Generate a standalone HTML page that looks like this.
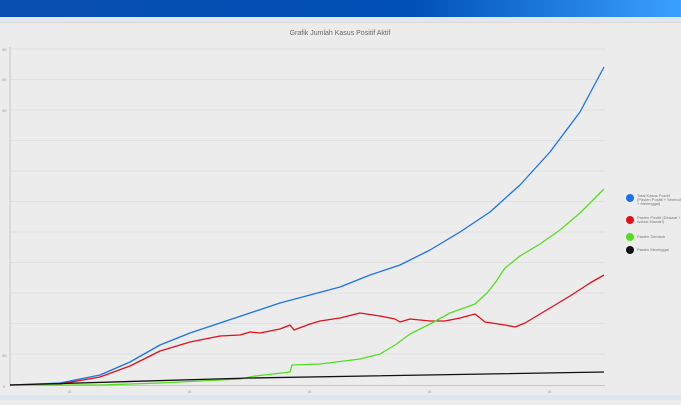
<!DOCTYPE html><html><head><style>body{margin:0;width:681px;height:400px;overflow:hidden;background:#ececec;font-family:"Liberation Sans",sans-serif}</style></head><body>
<svg width="681" height="400" xmlns="http://www.w3.org/2000/svg">
<defs><linearGradient id="g" x1="0" x2="1"><stop offset="0" stop-color="#0a4fb0"/><stop offset="0.6" stop-color="#004fb5"/><stop offset="1" stop-color="#3aa0ff"/></linearGradient></defs>
<rect width="681" height="400" fill="#ececec"/>
<rect width="681" height="17" fill="url(#g)"/>
<rect y="17" width="681" height="5" fill="#e4e6ee"/>
<rect y="22" width="681" height="1" fill="#d8d8d8"/>
<text x="340" y="35" font-size="7" fill="#666" text-anchor="middle">Grafik Jumlah Kasus Positif Aktif</text>
<g stroke="#dcdcdc" stroke-width="0.7">
<line x1="10" x2="605" y1="49" y2="49"/><line x1="10" x2="605" y1="79.5" y2="79.5"/><line x1="10" x2="605" y1="110" y2="110"/><line x1="10" x2="605" y1="140.5" y2="140.5"/><line x1="10" x2="605" y1="171" y2="171"/><line x1="10" x2="605" y1="201.5" y2="201.5"/><line x1="10" x2="605" y1="232" y2="232"/><line x1="10" x2="605" y1="262.5" y2="262.5"/><line x1="10" x2="605" y1="293" y2="293"/><line x1="10" x2="605" y1="323.5" y2="323.5"/><line x1="10" x2="605" y1="354" y2="354"/>
</g>
<line x1="10" x2="10" y1="47" y2="386" stroke="#bbb" stroke-width="0.7"/>
<line x1="10" x2="605" y1="385.5" y2="385.5" stroke="#bbb" stroke-width="0.7"/>
<g font-size="4" fill="#999"><text x="2" y="51">00</text><text x="2" y="81">00</text><text x="2" y="112">00</text><text x="2" y="357">00</text><text x="3" y="388">0</text>
<text x="68" y="393">/5</text><text x="188" y="393">/5</text><text x="308" y="393">/5</text><text x="428" y="393">/5</text><text x="548" y="393">/5</text></g>
<rect y="395" width="681" height="5" fill="#dde6ee"/>
<g fill="none" stroke-width="1.3" stroke-linejoin="round">
<polyline stroke="#1a73e8" points="10,385 60,383 100,375 130,362 160,345 190,333 220,323 250,313 280,303 310,295 340,287 370,275 400,265 430,250 460,232 490,212 520,185 550,152 580,112 604,67"/>
<polyline stroke="#e0101a" points="10,385 60,384 100,377 130,366 160,351 190,342 220,336 240,335 250,332 260,333 280,329 290,325 294,330 310,324 320,321 340,318 360,313 380,316 395,319 400,322 410,319 420,320 430,321 445,321 460,318 475,314 485,322 505,325 515,327 525,323 540,314 555,305 570,296 590,283 604,275"/>
<polyline stroke="#55dd22" points="10,385 100,385 160,383 200,381 240,379 255,376 290,372 292,365 320,364 360,359 380,354 395,345 410,334 430,324 450,313 475,304 487,293 495,283 505,268 520,256 540,244 560,230 580,213 604,189"/>
<polyline stroke="#111" points="10,385 250,378 604,372"/>
</g>
<circle cx="630" cy="198" r="4" fill="#1a73e8"/><circle cx="630" cy="220" r="4" fill="#e0101a"/><circle cx="630" cy="237" r="4" fill="#55dd22"/><circle cx="630" cy="250" r="4" fill="#111"/>
<g font-size="4" fill="#777"><text x="637" y="197">Total Kasus Positif</text><text x="637" y="201">(Pasien Positif + Sembuh</text><text x="637" y="205">+ Meninggal)</text>
<text x="637" y="219">Pasien Positif (Dirawat +</text><text x="637" y="223">Isolasi Mandiri)</text><text x="637" y="238">Pasien Sembuh</text><text x="637" y="251">Pasien Meninggal</text></g>
</svg></body></html>
